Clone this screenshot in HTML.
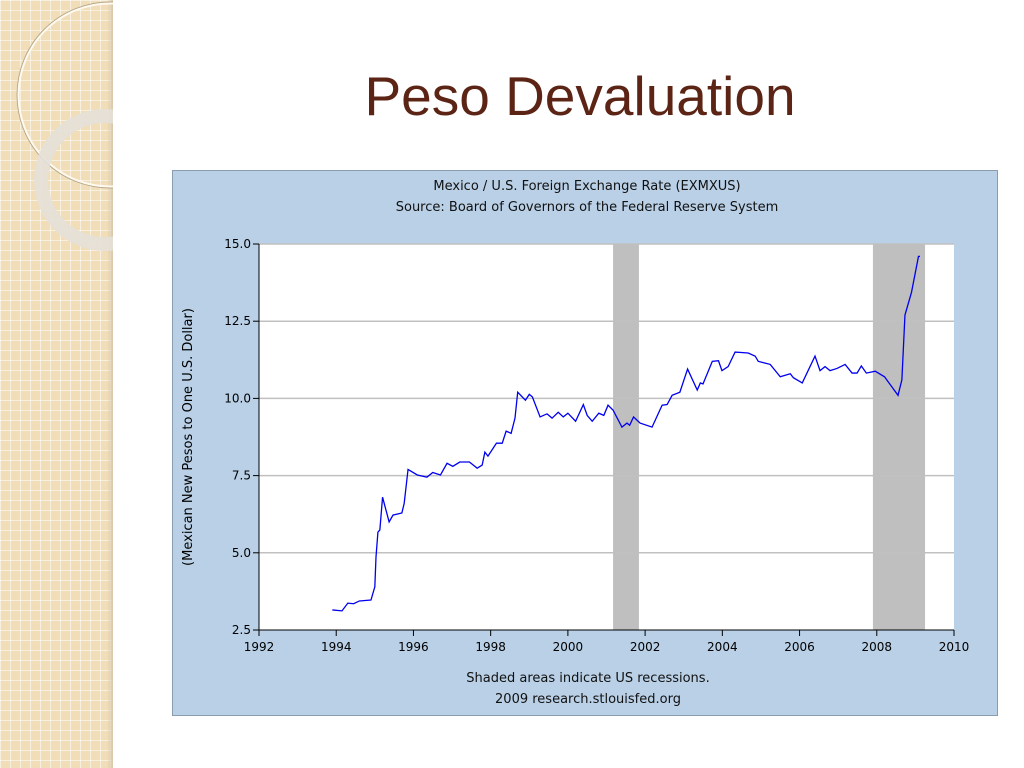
<!DOCTYPE html>
<html><head><meta charset="utf-8"><style>
body{margin:0;width:1024px;height:768px;background:#fff;position:relative;overflow:hidden;font-family:"Liberation Sans",sans-serif}
#strip{position:absolute;left:0;top:0;width:113px;height:768px;background-color:#f1deb8;
background-image:linear-gradient(#fff8 1px,transparent 1px),linear-gradient(90deg,#fff8 1px,transparent 1px);background-size:10px 10px}
#strip:after{content:"";position:absolute;right:0;top:0;width:6px;height:100%;background:linear-gradient(90deg,transparent,#d8c8a8)}
#title{position:absolute;left:0;width:1160px;top:64px;text-align:center;font-size:55px;color:#5b2415}
</style></head><body>
<div id="strip"></div>
<svg style="position:absolute;left:0;top:0" width="113" height="260">
<circle cx="110" cy="95" r="92" fill="none" stroke="#fffaf0" stroke-width="3"/>
<circle cx="110" cy="95" r="93" fill="none" stroke="#b8a888" stroke-width="1"/>
<circle cx="105" cy="180" r="64" fill="none" stroke="#e4e0d8" stroke-width="14" opacity="0.9"/>
</svg>
<div id="title">Peso Devaluation</div>
<svg id="chart" style="position:absolute;left:0;top:0" width="1024" height="768" font-family="DejaVu Sans, sans-serif"></svg>
<script>
const yearsX=[1992,1994,1996,1998,2000,2002,2004,2006,2008,2010];
const yTicks=[2.5,5.0,7.5,10.0,12.5,15.0];
const recessions=[[2001.17,2001.84],[2007.9,2009.25]];
const dates=[1993.9,1994.15,1994.3,1994.45,1994.6,1994.9,1995.0,1995.03,1995.08,1995.13,1995.2,1995.37,1995.47,1995.7,1995.76,1995.86,1996.1,1996.35,1996.5,1996.7,1996.87,1997.02,1997.2,1997.45,1997.65,1997.78,1997.85,1997.93,1998.15,1998.3,1998.4,1998.53,1998.63,1998.7,1998.9,1999.0,1999.08,1999.28,1999.46,1999.59,1999.75,1999.88,2000.0,2000.2,2000.4,2000.5,2000.63,2000.8,2000.93,2001.04,2001.17,2001.4,2001.53,2001.6,2001.7,2001.87,2002.18,2002.44,2002.57,2002.7,2002.9,2003.1,2003.35,2003.43,2003.5,2003.74,2003.9,2003.99,2004.15,2004.33,2004.67,2004.85,2004.93,2005.24,2005.5,2005.76,2005.84,2006.07,2006.4,2006.53,2006.66,2006.79,2006.97,2007.18,2007.36,2007.49,2007.6,2007.73,2007.96,2008.2,2008.55,2008.65,2008.73,2008.9,2009.08,2009.12];
const rates=[3.15,3.12,3.37,3.35,3.44,3.47,3.9,4.86,5.67,5.74,6.8,6.0,6.22,6.29,6.6,7.7,7.52,7.45,7.6,7.52,7.9,7.8,7.94,7.94,7.74,7.84,8.26,8.13,8.55,8.55,8.94,8.87,9.36,10.2,9.94,10.13,10.05,9.4,9.5,9.36,9.55,9.4,9.52,9.26,9.8,9.45,9.26,9.52,9.45,9.78,9.62,9.07,9.2,9.13,9.4,9.2,9.07,9.78,9.8,10.1,10.2,10.95,10.27,10.5,10.47,11.2,11.22,10.9,11.03,11.5,11.47,11.37,11.2,11.1,10.7,10.8,10.67,10.5,11.37,10.9,11.03,10.9,10.97,11.1,10.82,10.82,11.05,10.82,10.88,10.7,10.1,10.6,12.7,13.44,14.6,14.6];
const svg=document.getElementById('chart');const NS='http://www.w3.org/2000/svg';
const X0=259,X1=954,Y0=630,Y1=244;
const xs=v=>X0+(v-1992)/(2010-1992)*(X1-X0);
const ys=v=>Y0-(v-2.5)/(15-2.5)*(Y0-Y1);
function mk(t,a,p){const e=document.createElementNS(NS,t);for(const k in a)e.setAttribute(k,a[k]);(p||svg).appendChild(e);return e;}
let e;
e=mk('rect',{x:172.5,y:170.5,width:825,height:545,fill:'#b9d0e7',stroke:'#8a9cb0'});


e=mk('rect',{x:X0,y:Y1,width:X1-X0,height:Y0-Y1,fill:'#fff'});


recessions.forEach(r=>{e=mk('rect',{x:xs(r[0]),y:Y1,width:xs(r[1])-xs(r[0]),height:Y0-Y1,fill:'#bfbfbf'});

});
yTicks.forEach(v=>{if(v>2.5){e=mk('line',{x1:X0,x2:X1,y1:ys(v),y2:ys(v),stroke:'#c0c0c0','stroke-width':1.5});

}
mk('line',{x1:X0-6,x2:X0,y1:ys(v),y2:ys(v),stroke:'#000'});
e=mk('text',{x:X0-8,y:ys(v)+4,'text-anchor':'end','font-size':12});e.textContent=v.toFixed(1);

});
yearsX.forEach(v=>{mk('line',{x1:xs(v),x2:xs(v),y1:Y0,y2:Y0+6,stroke:'#000'});
e=mk('text',{x:xs(v),y:Y0+21,'text-anchor':'middle','font-size':12});e.textContent=v;

});
mk('line',{x1:X0,x2:X0,y1:Y1,y2:Y0,stroke:'#000'});mk('line',{x1:X0,x2:X1,y1:Y0,y2:Y0,stroke:'#000'});
e=mk('polyline',{points:dates.map((d,i)=>xs(d)+','+ys(rates[i])).join(' '),fill:'none',stroke:'#0000ee','stroke-width':1.3});


const texts=[[587,190,'Mexico / U.S. Foreign Exchange Rate (EXMXUS)','chart-title'],[587,211,'Source: Board of Governors of the Federal Reserve System','chart-source'],[588,682,'Shaded areas indicate US recessions.','recession-note'],[588,703,'2009 research.stlouisfed.org','credit']];
texts.forEach(t=>{e=mk('text',{x:t[0],y:t[1],'text-anchor':'middle','font-size':13,fill:'#111'});e.textContent=t[2];

});
e=mk('text',{x:0,y:0,'text-anchor':'middle','font-size':13,transform:'translate(192,437) rotate(-90)'});e.textContent='(Mexican New Pesos to One U.S. Dollar)';


</script>
</body></html>
